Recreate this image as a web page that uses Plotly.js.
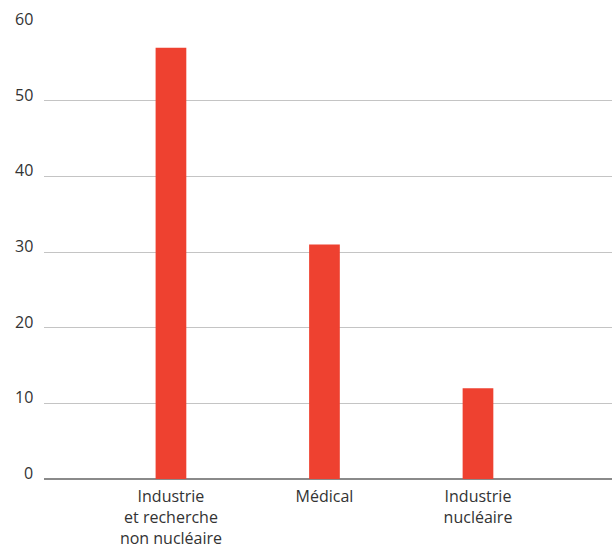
<!DOCTYPE html>
<html><head><meta charset="utf-8">
<script src="https://cdn.plot.ly/plotly-3.0.1.min.js"></script>
<style>html,body{margin:0;padding:0;background:#fff}#c{width:612px;height:549px}</style>
</head><body><div id="c"></div>
<script>
const categories = ["Industrie<br>et recherche<br>non nucléaire", "Médical", "Industrie<br>nucléaire"];
const values = [57, 31, 12];
const yTicks = [0, 10, 20, 30, 40, 50, 60];

const trace = {
  type: 'bar', x: [0, 1, 2], y: values, width: 0.2,
  marker: {color: '#EE4130'}, hoverinfo: 'skip'
};
const font = 'Open Sans, sans-serif';
const annotations = yTicks.map(v => ({
  xref: 'paper', yref: 'y', x: 0, y: v, text: String(v),
  showarrow: false, xanchor: 'right', yanchor: 'bottom',
  xshift: -9, yshift: -7,
  font: {family: font, size: 16, color: '#333'}
}));
const layout = {
  width: 612, height: 549,
  margin: {l: 44, r: 0, t: 25, b: 70},
  paper_bgcolor: '#fff', plot_bgcolor: '#fff',
  font: {family: font, size: 16, color: '#333'},
  showlegend: false,
  annotations: annotations,
  xaxis: {
    range: [-0.827, 2.873], tickvals: [0, 1, 2], ticktext: categories,
    showgrid: false, zeroline: false, showline: false, ticks: '',
    ticklabelstandoff: 6,
    tickfont: {family: font, size: 16, color: '#333'}, fixedrange: true
  },
  yaxis: {
    range: [0, 60], tickvals: yTicks, showticklabels: false,
    showgrid: true, gridcolor: '#c4c4c4', gridwidth: 1,
    zeroline: true, zerolinecolor: '#8a8a8a', zerolinewidth: 2,
    showline: false, ticks: '', fixedrange: true
  }
};
Plotly.newPlot('c', [trace], layout, {displayModeBar: false, staticPlot: true});
</script></body></html>
